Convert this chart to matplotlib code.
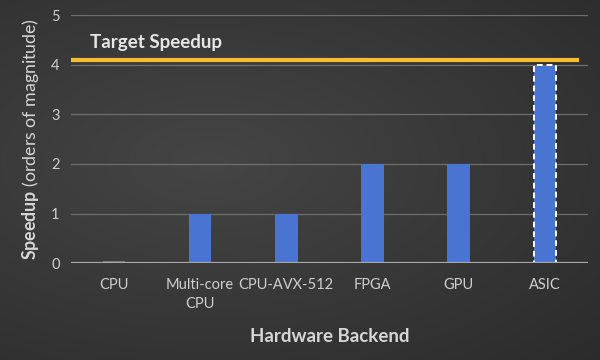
import matplotlib.pyplot as plt
import numpy as np

categories = ["CPU", "Multi-core\nCPU", "CPU-AVX-512", "FPGA", "GPU", "ASIC"]
speedup = [0.05, 1, 1, 2, 2, 4]
target = 4.1
yticks = [0, 1, 2, 3, 4, 5]

plt.rcParams['font.family'] = ['Lato', 'DejaVu Sans']
plt.rcParams['mathtext.fontset'] = 'custom'
plt.rcParams['mathtext.rm'] = 'Lato'
plt.rcParams['mathtext.bf'] = 'Lato:bold'

fig = plt.figure(figsize=(6, 3.6), dpi=100)

# dark gradient background
bg = fig.add_axes([0, 0, 1, 1], zorder=-10)
yy, xx = np.mgrid[0:1:200j, 0:1:300j]
shade = 0.27 - 0.10 * np.sqrt(((xx - 0.35) / 0.9) ** 2 + ((yy - 0.45) / 0.8) ** 2)
bg.imshow(np.dstack([shade] * 3).clip(0, 1), aspect='auto', extent=[0, 1, 0, 1])
bg.axis('off')

ax = fig.add_axes([0.118, 0.269, 0.862, 0.689])
ax.set_facecolor('none')

x = np.arange(len(categories))
bars = ax.bar(x, speedup, width=0.26, color='#4a74d2', zorder=3)
bars[-1].set_edgecolor('white')
bars[-1].set_linestyle((0, (3, 2)))
bars[-1].set_linewidth(1.4)

ax.axhline(target, xmin=0, xmax=0.978, color='#f5bd2f', lw=3, zorder=4)
ax.text(-0.28, target + 0.34, "Target Speedup", color='#e6e6e6',
        fontsize=13.5, fontweight='bold', va='center', ha='left')

ax.set_xlim(-0.5, len(categories) - 0.5)
ax.set_ylim(0, 5)
ax.set_yticks(yticks)
ax.set_xticks(x)
ax.set_xticklabels(categories, fontsize=10.5, color='#cfcfcf', linespacing=1.45)
ax.tick_params(axis='y', labelsize=10.5, labelcolor='#cfcfcf', length=0, pad=8)
ax.tick_params(axis='x', length=0, pad=11)

ax.grid(axis='y', color='#6e6e6e', lw=0.9, zorder=0)
for s in ax.spines.values():
    s.set_visible(False)
ax.axhline(0, color='#a8a8a8', lw=1.6, zorder=4)

ax.set_ylabel(r"$\bf{Speedup}$ (orders of magnitude)", fontsize=12.8,
              color='#d6d6d6', labelpad=7)
ax.set_xlabel("Hardware Backend", fontsize=13.5, fontweight='bold',
              color='#d6d6d6', labelpad=12)

plt.savefig('out.png', dpi=100)
